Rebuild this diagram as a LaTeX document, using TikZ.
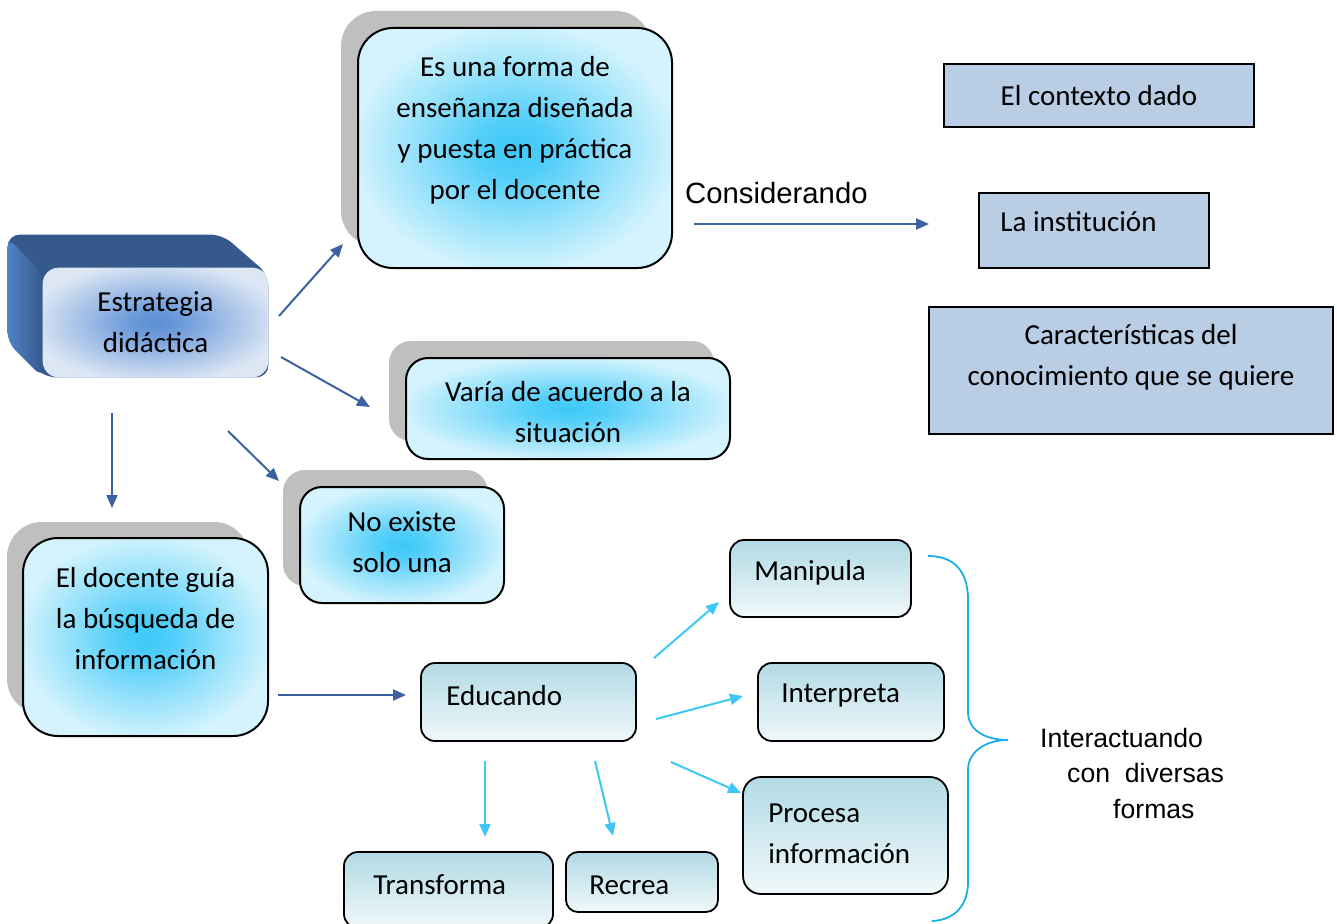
\documentclass[tikz,border=0pt]{standalone}
\usepackage{fontspec}
\setmainfont{Carlito}
\newfontfamily\arialf{Liberation Sans}
\usetikzlibrary{arrows.meta,calc,backgrounds}
\definecolor{bgc}{HTML}{D4F3FD}
\definecolor{glowc}{HTML}{3CC8F8}
\definecolor{bgb}{HTML}{DDE7F4}
\definecolor{glowb}{HTML}{5A8ED6}
\definecolor{shadowg}{HTML}{BFBFBF}
\definecolor{darkarr}{HTML}{3A62A0}
\definecolor{lightarr}{HTML}{3EC7F4}
\definecolor{steel}{HTML}{B9CDE5}
\definecolor{gtop}{HTML}{B2DAE5}
\definecolor{gbot}{HTML}{F0F8FA}
\definecolor{bracec}{HTML}{1AAFE8}
\definecolor{backtop}{HTML}{36598C}
\definecolor{backleft}{HTML}{4F83C8}
\pgfdeclareradialshading{glowcyan}{\pgfpoint{0bp}{0bp}}{color(0bp)=(glowc); color(6bp)=(glowc!85!bgc); color(15bp)=(glowc!45!bgc); color(26bp)=(bgc); color(50bp)=(bgc)}
\pgfdeclareradialshading{glowblue}{\pgfpoint{0bp}{0bp}}{color(0bp)=(glowb); color(6bp)=(glowb!85!bgb); color(16bp)=(glowb!45!bgb); color(28bp)=(bgb); color(50bp)=(bgb)}
\tikzset{
  txt/.style={font=\fontsize{29}{41}\selectfont, inner sep=0pt},
  glowbox/.style={draw=black, line width=2pt, shading=glowcyan},
  gbox/.style={draw=black, line width=1.8pt, top color=gtop, bottom color=gbot, rounded corners=14pt},
  rbox/.style={draw=black, line width=1.5pt, fill=steel, txt, align=center},
  darrow/.style={draw=darkarr, line width=2pt, -{Triangle[length=13pt,width=11pt]}},
  larrow/.style={draw=lightarr, line width=2pt, -{Triangle[length=13pt,width=11pt]}},
}
\begin{document}
\begin{tikzpicture}[x=1pt,y=-1pt]
\useasboundingbox (0,0) rectangle (1337,923);

% main glow boxes
\node[draw=bgb, line width=0.8pt, shading=glowblue, rounded corners=16pt, minimum width=225pt, minimum height=109pt,
  label={[txt, align=center]center:{Estrategia\\didáctica}}] (estr) at (155.5,322.5) {};
\node[glowbox, rounded corners=35pt, minimum width=314pt, minimum height=240pt,
  label={[txt, align=center, yshift=18pt]center:{Es una forma de\\enseñanza diseñada\\y puesta en práctica\\por el docente}}] (es) at (515,148) {};
\node[glowbox, rounded corners=22pt, minimum width=324pt, minimum height=101pt,
  label={[txt, align=center, yshift=-4pt]center:{Varía de acuerdo a la\\situación}}] (varia) at (568,408.5) {};
\node[glowbox, rounded corners=22pt, minimum width=204pt, minimum height=116pt,
  label={[txt, align=center, yshift=3pt]center:{No existe\\solo una}}] (noex) at (402,545) {};
\node[glowbox, rounded corners=35pt, minimum width=245pt, minimum height=198pt,
  label={[txt, align=center, yshift=18pt]center:{El docente guía\\la búsqueda de\\información}}] (doc) at (145.5,637) {};

% gradient boxes
\node[gbox, minimum width=215pt, minimum height=78pt,
  label={[txt, anchor=west, xshift=26pt, yshift=6pt]west:{Educando}}] (educ) at (528.5,702) {};
\node[gbox, minimum width=181pt, minimum height=77pt,
  label={[txt, anchor=west, xshift=25pt, yshift=6pt]west:{Manipula}}] (manip) at (820.5,578.5) {};
\node[gbox, minimum width=186pt, minimum height=78pt,
  label={[txt, anchor=west, xshift=24pt, yshift=6pt]west:{Interpreta}}] (interp) at (851,702) {};
\node[gbox, rounded corners=18pt, minimum width=205pt, minimum height=117pt,
  label={[txt, align=left, anchor=west, xshift=26pt, yshift=2pt]west:{Procesa\\información}}] (proc) at (845.5,835.5) {};
\node[gbox, minimum width=209pt, minimum height=76pt,
  label={[txt, anchor=west, xshift=30pt, yshift=5pt]west:{Transforma}}] (transf) at (448.5,890) {};
\node[gbox, rounded corners=12pt, minimum width=152pt, minimum height=60pt,
  label={[txt, anchor=west, xshift=24pt, yshift=-3pt]west:{Recrea}}] (recrea) at (642,882) {};

% right boxes
\node[rbox, minimum width=310pt, minimum height=63pt] (ctx) at (1099,95.5) {El contexto dado};
\node[rbox, minimum width=230pt, minimum height=75pt,
  label={[txt, anchor=west, xshift=22pt, yshift=8.5pt]west:{La institución}}] (inst) at (1094,230.5) {};
\node[rbox, minimum width=404pt, minimum height=127pt,
  label={[txt, align=center, yshift=13pt]center:{Características del\\conocimiento que se quiere}}] (carac) at (1131,370.5) {};

% free texts
\node[anchor=west, inner sep=0pt, font=\arialf\fontsize{29.3}{34}\selectfont] (cons) at (685,193) {Considerando};
\node[anchor=north west, inner sep=0pt, align=left, font=\arialf\fontsize{26.6}{35.5}\selectfont] (inter) at (1040,728)
  {Interactuando\\\hspace*{27pt}con\ \ diversas\\\hspace*{73pt}formas};

% shadows and 3D back
\begin{scope}[on background layer]
  \fill[shadowg, rounded corners=35pt] ($(es.north west)+(-16,-16)$) rectangle ($(es.south east)+(-22,-23)$);
  \fill[shadowg, rounded corners=22pt] ($(varia.north west)+(-16,-16)$) rectangle ($(varia.south east)+(-17,-19)$);
  \fill[shadowg, rounded corners=22pt] ($(noex.north west)+(-16,-16)$) rectangle ($(noex.south east)+(-17,-18)$);
  \fill[shadowg, rounded corners=35pt] ($(doc.north west)+(-15,-15)$) rectangle ($(doc.south east)+(-20,-23)$);
  \fill[backtop, rounded corners=12pt] ($(estr.north west)+(-35,-33)$) -- ($(estr.north east)+(-46,-33)$)
     -- ($(estr.north east)+(0,7)$) -- (estr.south east) -- ($(estr.south west)+(2,0)$)
     -- ($(estr.south west)+(-35,-35)$) -- cycle;
  \shade[left color=backleft, right color=backtop, rounded corners=10pt] ($(estr.north west)+(-35,-30)$)
     -- ($(estr.north west)+(0,6)$) -- (estr.south west) -- ($(estr.south west)+(-35,-35)$) -- cycle;
\end{scope}

% arrow end points
\coordinate (a1s) at (279,316); \coordinate (a1e) at (343,244);
\coordinate (a2s) at (281,357); \coordinate (a2e) at (370,407);
\coordinate (a3s) at (228,431); \coordinate (a3e) at (279,481);
\coordinate (a4s) at (112,413); \coordinate (a4e) at (112,508);
\coordinate (a5s) at (694,224); \coordinate (a5e) at (929,224);
\coordinate (a6s) at (278,695); \coordinate (a6e) at (406,695);
\coordinate (b1s) at (654,658); \coordinate (b1e) at (719,602);
\coordinate (b2s) at (656,719); \coordinate (b2e) at (743,696);
\coordinate (b3s) at (671,762); \coordinate (b3e) at (741,793);
\coordinate (b4s) at (485,761); \coordinate (b4e) at (485,837);
\coordinate (b5s) at (595,761); \coordinate (b5e) at (613,836);

\draw[darrow] (a1s) -- (a1e);
\draw[darrow] (a2s) -- (a2e);
\draw[darrow] (a3s) -- (a3e);
\draw[darrow] (a4s) -- (a4e);
\draw[darrow] (a5s) -- (a5e);
\draw[darrow] (a6s) -- (a6e);
\draw[larrow] (b1s) -- (b1e);
\draw[larrow] (b2s) -- (b2e);
\draw[larrow] (b3s) -- (b3e);
\draw[larrow] (b4s) -- (b4e);
\draw[larrow] (b5s) -- (b5e);

% brace
\coordinate (btip) at (1008,740);
\draw[bracec, line width=1.8pt] (928,556) .. controls (955,556) and (968,572) .. (968,600) -- (968,712)
  .. controls (968,730) and (985,740) .. (btip)
  .. controls (985,740) and (968,752) .. (968,770) -- (968,882)
  .. controls (968,905) and (955,920) .. (932,921);
\end{tikzpicture}
\end{document}
